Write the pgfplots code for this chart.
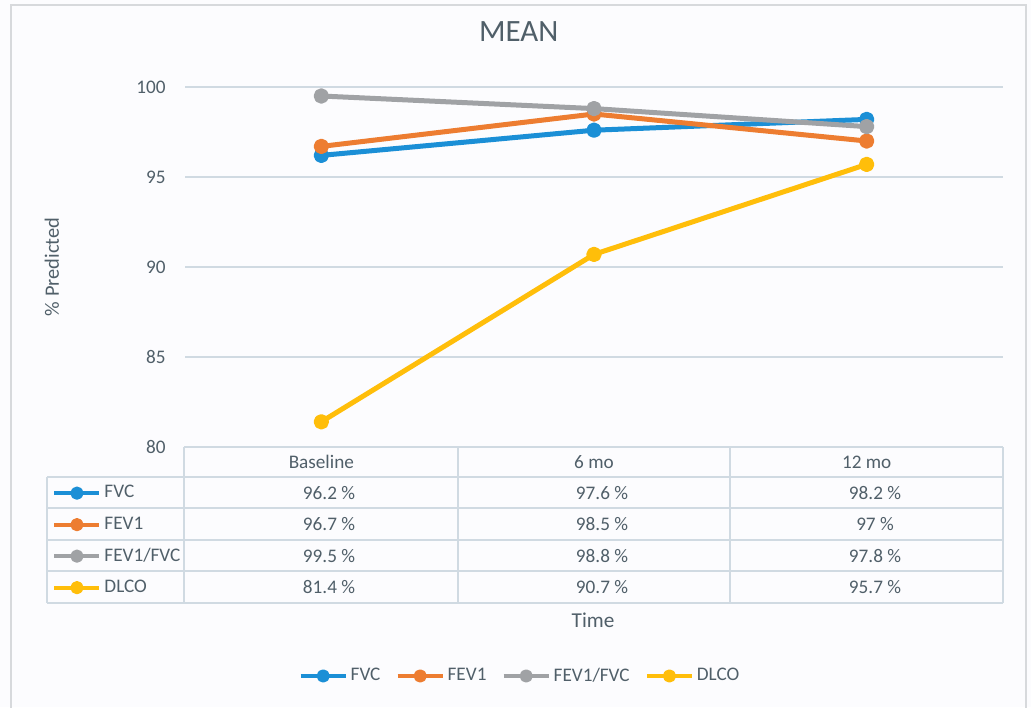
\documentclass[border=0pt]{standalone}
\usepackage{pgfplots}
\pgfplotsset{compat=1.18}
\usepackage{fontspec}
\setmainfont{Carlito}
\definecolor{fvcc}{RGB}{27,143,214}
\definecolor{fevc}{RGB}{237,125,49}
\definecolor{ratc}{RGB}{160,162,165}
\definecolor{dlcoc}{RGB}{255,190,10}
\definecolor{textc}{RGB}{80,95,105}
\definecolor{gridc}{RGB}{208,218,226}
\definecolor{framec}{RGB}{215,217,220}
\definecolor{bgc}{RGB}{252,252,254}
\newcommand\fs{\fontsize{9.6}{11.5}\selectfont}
\pgfplotsset{
  sty/.style={line width=2.5pt, line cap=round, line join=round, mark=*, mark size=2.6pt,
    mark options={solid, line width=0.4pt}},
  keyimg/.style={legend image code/.code={%
    \draw[mark repeat=2,mark phase=2,##1, line width=2pt, line cap=butt, mark size=2.3pt] plot coordinates {(0pt,0pt)(11.25pt,0pt)(22.5pt,0pt)};}},
}
\begin{document}
\begin{tikzpicture}
\useasboundingbox (0,0) rectangle (515.5pt,353.5pt);
\fill[bgc] (0,0) rectangle (515.5pt,353.5pt);
\begin{scope}[x=0.5pt,y=-0.5pt,shift={(0pt,353.5pt)}]
  \draw[framec, line width=1.2pt] (11,720) -- (11,5) -- (1026,5) -- (1026,720);
  % data table grid
  \draw[gridc, line width=1pt]
    (184,447) -- (1003,447)
    (47,477) -- (1003,477)
    (47,508) -- (1003,508)
    (47,540) -- (1003,540)
    (47,571) -- (1003,571)
    (47,603) -- (1003,603)
    (47,477) -- (47,603)
    (184,447) -- (184,603)
    (458,447) -- (458,603)
    (730,447) -- (730,603)
    (1003,447) -- (1003,603);
  \begin{scope}[every node/.style={font=\fs, text=textc, anchor=base, inner sep=0pt}]
    \node at (329,499) {96.2 \%};
    \node at (602,499) {97.6 \%};
    \node at (875,499) {98.2 \%};
    \node at (329,530.5) {96.7 \%};
    \node at (602,530.5) {98.5 \%};
    \node at (875,530.5) {97 \%};
    \node at (329,562) {99.5 \%};
    \node at (602,562) {98.8 \%};
    \node at (875,562) {97.8 \%};
    \node at (329,593.5) {81.4 \%};
    \node at (602,593.5) {90.7 \%};
    \node at (875,593.5) {95.7 \%};
  \end{scope}
\end{scope}
\begin{axis}[
  at={(92.5pt,130pt)}, anchor=south west, scale only axis,
  width=409pt, height=180pt,
  xmin=-0.5, xmax=2.5, ymin=80, ymax=100,
  xtick={0,1,2}, xticklabels={Baseline,6 mo,12 mo},
  ytick={80,85,90,95,100},
  major tick length=0pt,
  axis line style={draw=none},
  ymajorgrids, grid style={gridc, line width=1pt},
  tick label style={font=\fs, text=textc},
  yticklabel style={anchor=east, inner sep=0pt, xshift=-9.5pt},
  xticklabel style={anchor=base, inner sep=0pt, yshift=-10.5pt},
  /pgf/number format/assume math mode=true,
  xlabel={Time},
  xlabel style={at={(axis description cs:0.4988,-0.5)}, anchor=base, font=\fontsize{10.6}{12}\selectfont, text=textc, inner sep=0pt},
  ylabel={\% Predicted},
  ylabel style={at={(axis description cs:-0.1626,0.5)}, anchor=center, font=\fontsize{10.2}{12}\selectfont, text=textc, inner sep=0pt},
  title={MEAN},
  title style={at={(axis description cs:0.408,1.094)}, anchor=base, font=\fontsize{15.5}{18}\selectfont, text=textc, inner sep=0pt},
  clip=false,
  keyimg,
  legend columns=-1,
  legend style={at={(axis description cs:0.1385,-0.636)}, anchor=west, draw=none, fill=none,
    inner sep=0pt, font=\fs, text=textc, nodes={inner sep=0pt},
    /tikz/every odd column/.append style={column sep=1.5pt},
    /tikz/every even column/.append style={column sep=7.6pt}},
]
\addplot[sty, color=fvcc, mark options={fill=fvcc, draw=fvcc}] coordinates {(0,96.2) (1,97.6) (2,98.2)};
\addlegendentry{FVC}
\addplot[sty, color=fevc, mark options={fill=fevc, draw=fevc}] coordinates {(0,96.7) (1,98.5) (2,97)};
\addlegendentry{FEV1}
\addplot[sty, color=ratc, mark options={fill=ratc, draw=ratc}] coordinates {(0,99.5) (1,98.8) (2,97.8)};
\addlegendentry{FEV1/FVC}
\addplot[sty, color=dlcoc, mark options={fill=dlcoc, draw=dlcoc}] coordinates {(0,81.4) (1,90.7) (2,95.7)};
\addlegendentry{DLCO}
\end{axis}
% legend keys of the data table
\begin{axis}[
  at={(23.5pt,52pt)}, anchor=south west, scale only axis,
  width=68.5pt, height=63pt, hide axis,
  xmin=0, xmax=1, ymin=0, ymax=1,
  keyimg,
  legend cell align=left,
  legend style={at={(axis description cs:0.037,1)}, anchor=north west, draw=none, fill=none,
    inner sep=0pt, row sep=0pt, font=\fs, text=textc,
    nodes={inner sep=0pt, minimum height=15.75pt},
    /tikz/every odd column/.append style={column sep=1.5pt}},
]
\addlegendimage{sty, color=fvcc, mark options={fill=fvcc, draw=fvcc}}
\addlegendentry{FVC}
\addlegendimage{sty, color=fevc, mark options={fill=fevc, draw=fevc}}
\addlegendentry{FEV1}
\addlegendimage{sty, color=ratc, mark options={fill=ratc, draw=ratc}}
\addlegendentry{FEV1/FVC}
\addlegendimage{sty, color=dlcoc, mark options={fill=dlcoc, draw=dlcoc}}
\addlegendentry{DLCO}
\end{axis}
\end{tikzpicture}
\end{document}
